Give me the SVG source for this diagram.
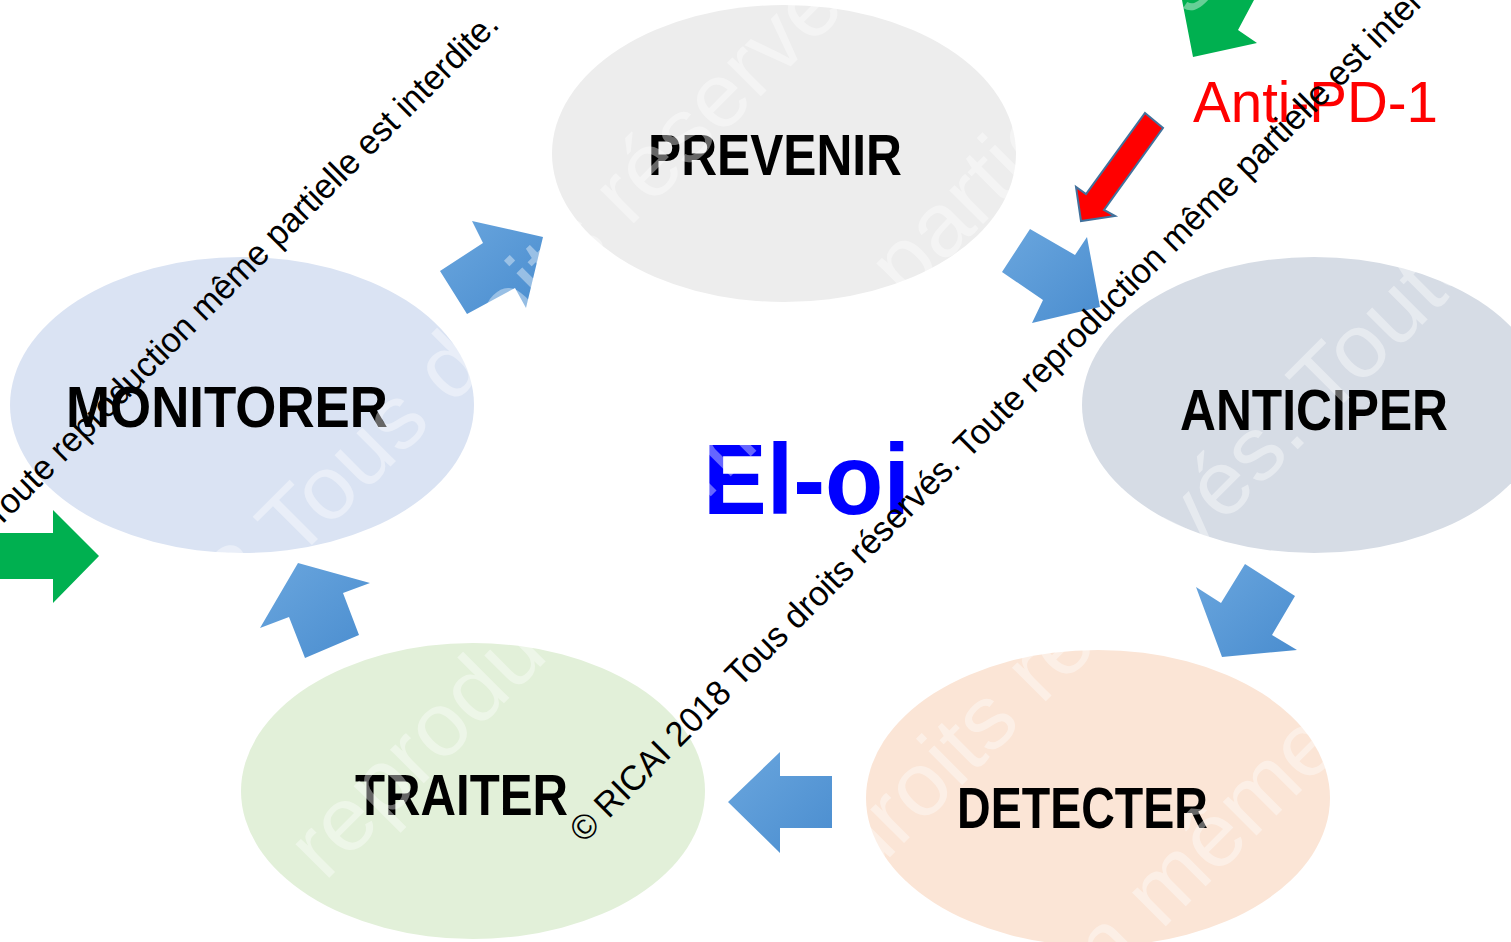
<svg xmlns="http://www.w3.org/2000/svg" width="1511" height="942" viewBox="0 0 1511 942">
<defs>
<linearGradient id="blueGrad" x1="0" y1="0" x2="1" y2="1">
<stop offset="0" stop-color="#6aa6de"/>
<stop offset="1" stop-color="#4a8dcf"/>
</linearGradient>
<style>
.lbl{font-family:"Liberation Sans",Arial,sans-serif;font-weight:bold;font-size:58px;fill:#000}
.arrow{fill:url(#blueGrad)}
.green{fill:#00b050}
.wm{font-family:"Liberation Sans",Arial,sans-serif;font-size:35px;fill:#000}
.wmw{font-family:"Liberation Sans",Arial,sans-serif;font-size:90px;fill:#fff;fill-opacity:0.4}
</style>
</defs>
<rect width="1511" height="942" fill="#fff"/>
<g id="prevenir">
<ellipse cx="784" cy="153.5" rx="232" ry="148.5" fill="#ededed"/>
<text class="lbl" x="648" y="175" textLength="254" lengthAdjust="spacingAndGlyphs">PREVENIR</text>
</g>
<g id="monitorer">
<ellipse cx="242" cy="405" rx="232" ry="148" fill="#dae3f3"/>
<text class="lbl" x="66" y="427" textLength="322" lengthAdjust="spacingAndGlyphs">MONITORER</text>
</g>
<g id="anticiper">
<ellipse cx="1314" cy="405" rx="232" ry="148" fill="#d6dce5"/>
<text class="lbl" x="1180" y="430" textLength="268" lengthAdjust="spacingAndGlyphs">ANTICIPER</text>
</g>
<g id="detecter">
<ellipse cx="1098" cy="798" rx="232" ry="148" fill="#fbe5d6"/>
<text class="lbl" x="957" y="828" textLength="251" lengthAdjust="spacingAndGlyphs">DETECTER</text>
</g>
<g id="traiter">
<ellipse cx="473" cy="791" rx="232" ry="148" fill="#e2f0d9"/>
<text class="lbl" x="355" y="815" textLength="213" lengthAdjust="spacingAndGlyphs">TRAITER</text>
</g>
<g id="connectors">
<polygon class="arrow" points="440,271 483,243 472,221 543,237 526,308 515,288 467,314"/>
<polygon class="arrow" points="1030,229 1075,255 1087,237 1100,307 1032,323 1043,300 1002,272"/>
<polygon class="arrow" points="1245,564 1295,596 1272,635 1297,650 1222,657 1196,587 1221,603"/>
<polygon class="arrow" points="832,776 780,776 780,752 728,802 780,853 780,828 832,828"/>
<polygon class="arrow" points="298,563 370,583 343,593 359,635 305,658 289,617 260,628"/>
<polygon class="green" points="0,533 53,533 53,510 99,556 53,603 53,579 0,579"/>
<polygon class="green" points="1182,0 1254,0 1238,30 1257,43 1193,57"/>
<polygon points="1145,113 1163,128 1104,210 1115,216 1081,221 1076,187 1086,194" fill="#ff0000" stroke="#41719c" stroke-width="2" stroke-linejoin="miter"/>
</g>
<g id="center-label">
<text x="703" y="514" textLength="207" lengthAdjust="spacingAndGlyphs" font-family="Liberation Sans, Arial, sans-serif" font-weight="bold" font-size="100" fill="#0000ff">El-oi</text>
</g>
<g id="anti-pd1">
<text x="1193" y="122" textLength="245" lengthAdjust="spacingAndGlyphs" font-family="Liberation Sans, Arial, sans-serif" font-size="57" fill="#ff0000">Anti-PD-1</text>
</g>
<g id="watermark-white">
<text class="wmw" transform="translate(-126,983) rotate(-45)" textLength="3398" lengthAdjust="spacingAndGlyphs">© RICAI 2018 Tous droits réservés. Toute reproduction même partielle est interdite.</text>
<text class="wmw" transform="translate(-894,2101) rotate(-45)" textLength="3398" lengthAdjust="spacingAndGlyphs">© RICAI 2018 Tous droits réservés. Toute reproduction même partielle est interdite.</text>
<text class="wmw" transform="translate(286,1461) rotate(-45)" textLength="3398" lengthAdjust="spacingAndGlyphs">© RICAI 2018 Tous droits réservés. Toute reproduction même partielle est interdite.</text>
<text class="wmw" transform="translate(-439,2531) rotate(-45)" textLength="3398" lengthAdjust="spacingAndGlyphs">© RICAI 2018 Tous droits réservés. Toute reproduction même partielle est interdite.</text>
<text class="wmw" transform="translate(-1679,1919) rotate(-45)" textLength="3398" lengthAdjust="spacingAndGlyphs">© RICAI 2018 Tous droits réservés. Toute reproduction même partielle est interdite.</text>
</g>
<g id="watermark-black">
<text class="wm" transform="translate(584,844) rotate(-45)" textLength="1254" lengthAdjust="spacingAndGlyphs">© RICAI 2018 Tous droits réservés. Toute reproduction même partielle est interdite.</text>
<text class="wm" transform="translate(-386,913) rotate(-45)" textLength="1254" lengthAdjust="spacingAndGlyphs">© RICAI 2018 Tous droits réservés. Toute reproduction même partielle est interdite.</text>
</g>
</svg>
